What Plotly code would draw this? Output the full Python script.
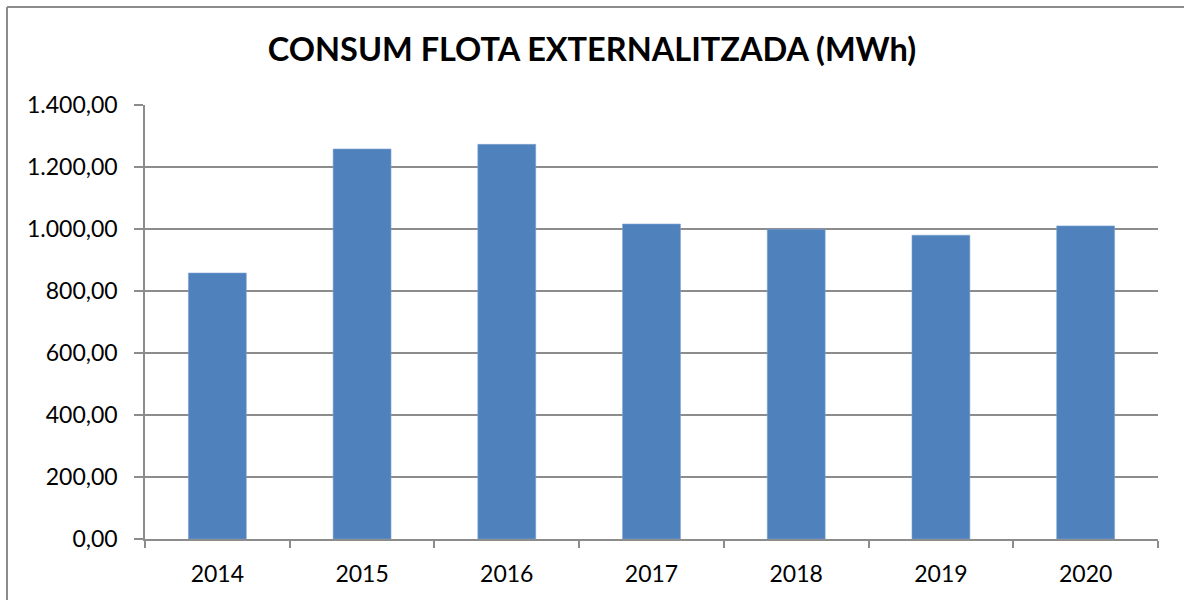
import plotly.graph_objects as go

# consum anual de la flota externalitzada (MWh)
years = ["2014", "2015", "2016", "2017", "2018", "2019", "2020"]
consum = [858.0, 1258.0, 1273.0, 1016.0, 999.0, 980.0, 1010.0]
y_ticks = [0, 200, 400, 600, 800, 1000, 1200, 1400]

FONT = "Lato"
GRID = "#8c8c8c"

fig = go.Figure()
fig.add_trace(go.Bar(
    x=years,
    y=consum,
    marker=dict(color="#4F81BD", line=dict(color="#7da2d0", width=0.6)),
    width=0.4,
))

fig.update_layout(
    width=1184,
    height=600,
    paper_bgcolor="white",
    plot_bgcolor="white",
    margin=dict(l=145, r=26, t=105, b=61),
    separators=",.",
    showlegend=False,
    title=dict(
        text="<b>CONSUM FLOTA EXTERNALITZADA (MWh)</b>",
        x=0.5, xanchor="center",
        y=0.917, yanchor="middle",
        font=dict(family=FONT, size=32.5, color="black"),
    ),
    font=dict(family=FONT, size=22, color="black"),
)

fig.update_yaxes(
    range=[0, 1400],
    tickvals=y_ticks,
    tickformat=",.2f",
    showgrid=True, gridcolor=GRID, gridwidth=1.5,
    showline=True, linecolor=GRID, linewidth=1.5,
    ticks="outside", ticklen=9, tickcolor=GRID, tickwidth=1.5,
    ticklabelstandoff=12,
    zeroline=False,
    tickfont=dict(family=FONT, size=23, color="black"),
)
fig.update_xaxes(
    showline=True, linecolor=GRID, linewidth=1.5,
    ticks="outside", ticklen=7, tickcolor=GRID, tickwidth=1.5,
    tickson="boundaries",
    ticklabelstandoff=14,
    tickfont=dict(family=FONT, size=23, color="black"),
)

# marc exterior del gràfic (només vores esquerra i superior dins la imatge)
x_left = (7 - 145) / 1013
y_top = 1 + (105 - 7) / 434
fig.add_shape(type="line", xref="paper", yref="paper",
              x0=x_left, x1=x_left, y0=(539 - 620) / 434, y1=y_top,
              line=dict(color=GRID, width=2), layer="below")
fig.add_shape(type="line", xref="paper", yref="paper",
              x0=x_left, x1=(1300 - 145) / 1013, y0=y_top, y1=y_top,
              line=dict(color=GRID, width=2), layer="below")

fig.write_html(
    "out.html",
    config={"displayModeBar": False},
    post_script=(
        "document.body.style.margin='0';"
        "document.body.style.overflow='hidden';"
        "document.documentElement.style.overflow='hidden';"
    ),
)
